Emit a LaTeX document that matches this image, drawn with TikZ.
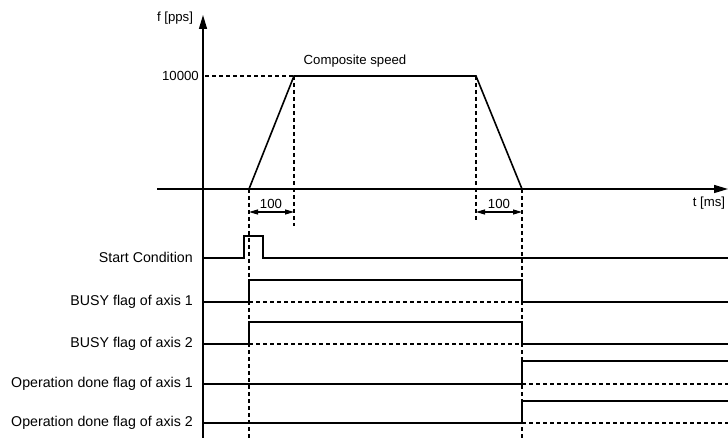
\documentclass[tikz,border=0pt]{standalone}
\usepackage{fontspec}
\setmainfont{Liberation Sans}
\usetikzlibrary{arrows.meta}
\tikzset{
  sig/.style={line width=1.6pt},
  axis/.style={line width=1.4pt,-{Triangle[length=14pt,width=8pt]}},
  guide/.style={line width=1.1pt,dash pattern=on 4pt off 3pt},
  dim/.style={line width=1.1pt,{Triangle[length=9pt,width=5pt]}-{Triangle[length=9pt,width=5pt]}},
  lbl/.style={anchor=east,inner sep=0pt,font=\fontsize{14.2}{17}\selectfont},
  txt/.style={inner sep=0pt,font=\fontsize{13.2}{16}\selectfont}
}
\begin{document}
\begin{tikzpicture}[x=1pt,y=-1pt]
\useasboundingbox (0,0) rectangle (728,438);
% axes
\draw[axis] (203,438) -- (203,15);
\draw[axis] (157,189) -- (728,189);
\node[txt] (fname) at (175,18) {f [pps]};
\node[txt] (tname) at (709,203) {t [ms]};
% composite speed profile
\draw[sig] (249,189) -- (294,76) -- (476,76) -- (522,189);
\node[txt] (speed) at (355,61) {Composite speed};
\node[txt,anchor=east] (fmax) at (199,76) {10000};
\draw[guide] (205,76) -- (294,76);
\draw[guide] (249,189) -- (249,438);
\draw[guide] (294,76) -- (294,226);
\draw[guide] (476,76) -- (476,220);
\draw[guide] (522,189) -- (522,438);
\draw[dim] (249,212) -- (294,212);
\draw[dim] (476,212) -- (522,212);
\node[txt] (acc) at (271,204) {100};
\node[txt] (dec) at (499,204) {100};
% signals
\node[lbl] (start) at (193,257) {Start Condition};
\draw[sig] (203,258) -- (244,258) -- (244,236) -- (263,236) -- (263,258) -- (728,258);
\node[lbl] (busya) at (193,302) {BUSY flag of axis 1};
\draw[sig] (203,302) -- (249,302) -- (249,280) -- (522,280) -- (522,302) -- (728,302);
\draw[guide] (249,302) -- (522,302);
\node[lbl] (busyb) at (193,344) {BUSY flag of axis 2};
\draw[sig] (203,344) -- (249,344) -- (249,322) -- (522,322) -- (522,344) -- (728,344);
\draw[guide] (249,344) -- (522,344);
\node[lbl] (donea) at (193,384) {Operation done flag of axis 1};
\draw[sig] (203,384) -- (522,384) -- (522,361) -- (728,361);
\draw[guide] (522,384) -- (728,384);
\node[lbl] (doneb) at (193,423) {Operation done flag of axis 2};
\draw[sig] (203,423) -- (522,423) -- (522,401) -- (728,401);
\draw[guide] (522,423) -- (728,423);
\end{tikzpicture}
\end{document}
